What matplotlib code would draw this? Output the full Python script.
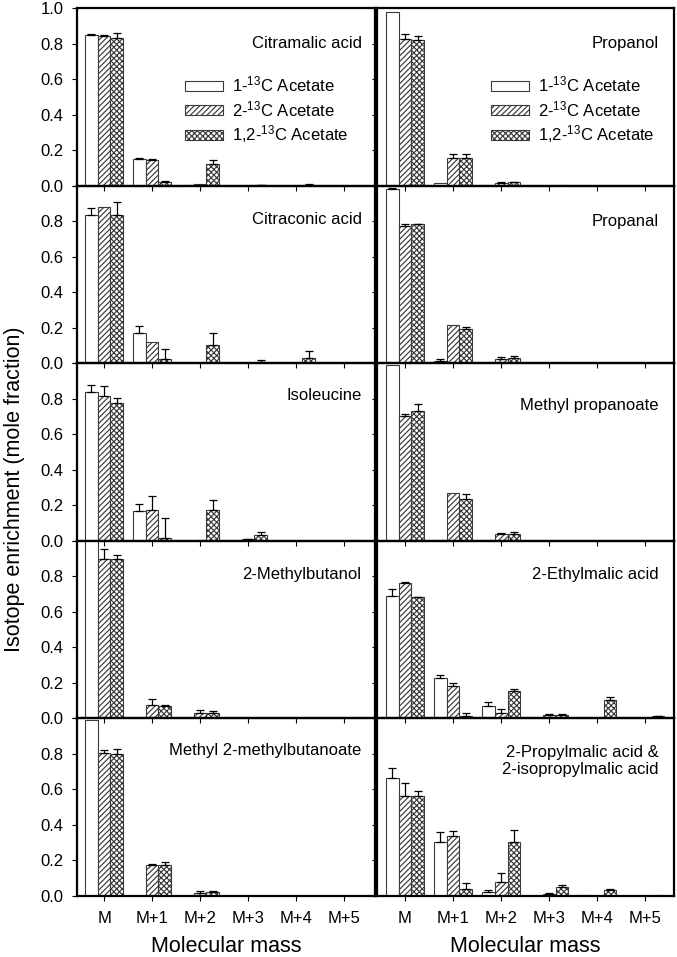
import numpy as np
import matplotlib
matplotlib.use("Agg")
import matplotlib.pyplot as plt
from matplotlib.patches import Patch

plt.rcParams['font.family'] = ['Liberation Sans', 'DejaVu Sans']
plt.rcParams['mathtext.fontset'] = 'custom'
plt.rcParams['mathtext.rm'] = 'Liberation Sans'
plt.rcParams['mathtext.it'] = 'Liberation Sans:italic'
plt.rcParams['mathtext.bf'] = 'Liberation Sans:bold'
plt.rcParams['mathtext.default'] = 'regular'
plt.rcParams['hatch.linewidth'] = 0.85

# ---------------- data ----------------
masses = ["M", "M+1", "M+2", "M+3", "M+4", "M+5"]
series = ["1-$^{13}$C Acetate", "2-$^{13}$C Acetate", "1,2-$^{13}$C Acetate"]

# left column
citramalic_v = [[0.848, 0.148, 0.004, 0.0, 0.0, 0.0],
                [0.845, 0.144, 0.011, 0.0, 0.0, 0.0],
                [0.833, 0.023, 0.121, 0.004, 0.005, 0.0]]
citramalic_e = [[0.006, 0.010, 0.0, 0.0, 0.0, 0.0],
                [0.004, 0.008, 0.0, 0.0, 0.0, 0.0],
                [0.029, 0.003, 0.023, 0.002, 0.002, 0.0]]

citraconic_v = [[0.832, 0.169, 0.0, 0.0, 0.0, 0.0],
                [0.878, 0.122, 0.0, 0.0, 0.0, 0.0],
                [0.836, 0.024, 0.105, 0.008, 0.030, 0.0]]
citraconic_e = [[0.040, 0.042, 0.0, 0.0, 0.0, 0.0],
                [0.0, 0.0, 0.0, 0.0, 0.0, 0.0],
                [0.070, 0.057, 0.066, 0.008, 0.040, 0.0]]

isoleucine_v = [[0.836, 0.165, 0.0, 0.0, 0.0, 0.0],
                [0.813, 0.176, 0.004, 0.008, 0.0, 0.0],
                [0.775, 0.015, 0.171, 0.032, 0.0, 0.003]]
isoleucine_e = [[0.040, 0.040, 0.0, 0.0, 0.0, 0.0],
                [0.061, 0.074, 0.0, 0.004, 0.0, 0.0],
                [0.031, 0.114, 0.058, 0.019, 0.0, 0.0]]

methylbutanol_v = [[1.0, 0.0, 0.0, 0.0, 0.0, 0.0],
                   [0.899, 0.074, 0.028, 0.0, 0.0, 0.0],
                   [0.899, 0.070, 0.030, 0.0, 0.0, 0.0]]
methylbutanol_e = [[0.0, 0.0, 0.0, 0.0, 0.0, 0.0],
                   [0.056, 0.034, 0.017, 0.0, 0.0, 0.0],
                   [0.019, 0.004, 0.014, 0.0, 0.0, 0.0]]

mmb_v = [[0.990, 0.0, 0.0, 0.0, 0.0, 0.0],
         [0.804, 0.176, 0.017, 0.002, 0.0, 0.0],
         [0.800, 0.173, 0.021, 0.002, 0.0, 0.0]]
mmb_e = [[0.0, 0.0, 0.0, 0.0, 0.0, 0.0],
         [0.019, 0.004, 0.011, 0.0, 0.0, 0.0],
         [0.026, 0.020, 0.006, 0.0, 0.0, 0.0]]

# right column
propanol_v = [[0.979, 0.013, 0.005, 0.0, 0.0, 0.0],
              [0.828, 0.157, 0.015, 0.0, 0.0, 0.0],
              [0.818, 0.153, 0.021, 0.002, 0.0, 0.0]]
propanol_e = [[0.0, 0.0, 0.0, 0.0, 0.0, 0.0],
              [0.026, 0.023, 0.006, 0.0, 0.0, 0.0],
              [0.025, 0.027, 0.002, 0.0, 0.0, 0.0]]

propanal_v = [[0.983, 0.013, 0.006, 0.0, 0.0, 0.0],
              [0.771, 0.216, 0.026, 0.0, 0.0, 0.0],
              [0.783, 0.193, 0.030, 0.005, 0.0, 0.0]]
propanal_e = [[0.006, 0.012, 0.0, 0.0, 0.0, 0.0],
              [0.010, 0.0, 0.008, 0.0, 0.0, 0.0],
              [0.003, 0.009, 0.013, 0.0, 0.0, 0.0]]

mprop_v = [[0.990, 0.003, 0.006, 0.0, 0.0, 0.0],
           [0.700, 0.268, 0.040, 0.0, 0.0, 0.0],
           [0.730, 0.236, 0.038, 0.0, 0.0, 0.0]]
mprop_e = [[0.0, 0.0, 0.0, 0.0, 0.0, 0.0],
           [0.013, 0.0, 0.004, 0.0, 0.0, 0.0],
           [0.040, 0.026, 0.012, 0.0, 0.0, 0.0]]

ethylmalic_v = [[0.692, 0.227, 0.068, 0.004, 0.004, 0.0],
                [0.764, 0.182, 0.028, 0.019, 0.004, 0.0],
                [0.682, 0.013, 0.155, 0.019, 0.106, 0.011]]
ethylmalic_e = [[0.034, 0.018, 0.023, 0.0, 0.0, 0.0],
                [0.003, 0.017, 0.023, 0.004, 0.0, 0.0],
                [0.004, 0.015, 0.010, 0.004, 0.012, 0.004]]

propylmalic_v = [[0.667, 0.303, 0.025, 0.0, 0.003, 0.0],
                 [0.563, 0.337, 0.080, 0.012, 0.002, 0.0],
                 [0.563, 0.042, 0.303, 0.048, 0.033, 0.004]]
propylmalic_e = [[0.051, 0.057, 0.009, 0.0, 0.0, 0.0],
                 [0.076, 0.027, 0.047, 0.004, 0.0, 0.0],
                 [0.030, 0.032, 0.069, 0.012, 0.004, 0.0]]

left_names = ["Citramalic acid", "Citraconic acid", "Isoleucine",
              "2-Methylbutanol", "Methyl 2-methylbutanoate"]
right_names = ["Propanol", "Propanal", "Methyl propanoate",
               "2-Ethylmalic acid", "2-Propylmalic acid &\n2-isopropylmalic acid"]
left_vals = [citramalic_v, citraconic_v, isoleucine_v, methylbutanol_v, mmb_v]
left_errs = [citramalic_e, citraconic_e, isoleucine_e, methylbutanol_e, mmb_e]
right_vals = [propanol_v, propanal_v, mprop_v, ethylmalic_v, propylmalic_v]
right_errs = [propanol_e, propanal_e, mprop_e, ethylmalic_e, propylmalic_e]
left_label_y = [0.80, 0.81, 0.82, 0.81, 0.82]
right_label_y = [0.80, 0.80, 0.76, 0.81, 0.76]

# ---------------- styles ----------------
hatches = [None, '//////', 'xxxxxx']
edge = '#3a3a3a'
W, H = 677.0, 957.0
fig = plt.figure(figsize=(W / 100, H / 100), dpi=100)

top_px = 8.0
row_h = 177.6
cols = [(77.0, 298.0, (-0.565, 5.645)), (377.0, 297.0, (-0.583, 5.597))]
bw = 0.265
x = np.arange(len(masses))


def draw_panel(ax, vals, errs, name, ly, is_left, row):
    for k in range(3):
        xs = x + (k - 1) * bw
        ax.bar(xs, vals[k], width=bw, color='white', edgecolor=edge,
               linewidth=0.8, hatch=hatches[k], zorder=2)
        v = np.array(vals[k])
        e = np.array(errs[k])
        m = e > 0
        if m.any():
            ax.errorbar(xs[m], v[m], yerr=[np.zeros(m.sum()), e[m]], fmt='none',
                        ecolor='black', elinewidth=0.9, capsize=3, capthick=0.9,
                        zorder=3)
    ax.set_ylim(0, 1.0)
    ax.set_facecolor('none')
    for s in ax.spines.values():
        s.set_linewidth(1.6)
    ax.set_yticks([0, 0.2, 0.4, 0.6, 0.8, 1.0])
    if is_left:
        labs = ['0.0', '0.2', '0.4', '0.6', '0.8', '1.0' if row == 0 else '']
        ax.set_yticklabels(labs)
    else:
        ax.set_yticklabels([])
    ax.set_xticks(x)
    if row == 4:
        ax.set_xticklabels(masses)
    else:
        ax.set_xticklabels([])
    ax.tick_params(axis='both', direction='out', length=3.6, width=0.8,
                   labelsize=12, pad=6)
    ax.tick_params(axis='x', pad=7.5)
    ax.text(0.955 if is_left else 0.947, ly, name, transform=ax.transAxes,
            ha='right', va='center', fontsize=12, linespacing=1.15)


for ci, (x0, wpx, xl) in enumerate(cols):
    for r in range(5):
        ytop = top_px + row_h * r
        ax = fig.add_axes([x0 / W, 1 - (ytop + row_h) / H, wpx / W, row_h / H])
        ax.set_xlim(*xl)
        if ci == 0:
            draw_panel(ax, left_vals[r], left_errs[r], left_names[r], left_label_y[r], True, r)
        else:
            draw_panel(ax, right_vals[r], right_errs[r], right_names[r], right_label_y[r], False, r)
        if r == 0:
            handles = [Patch(facecolor='white', edgecolor=edge, linewidth=0.8, hatch=h)
                       for h in hatches]
            lx = (185.0 - x0) / wpx if ci == 0 else (490.7 - x0) / wpx
            ax.legend(handles, series, loc='center left', bbox_to_anchor=(lx, 0.425),
                      frameon=False, fontsize=12, handlelength=2.28, handleheight=0.5,
                      handletextpad=0.55, labelspacing=0.27, borderpad=0, borderaxespad=0)
        if r == 4:
            ax.set_xlabel("Molecular mass", fontsize=15.5, labelpad=7)

fig.text(15 / W, 1 - 489 / H, "Isotope enrichment (mole fraction)", rotation=90,
         ha='center', va='center', fontsize=15.5)

fig.savefig('out.png', dpi=100)
